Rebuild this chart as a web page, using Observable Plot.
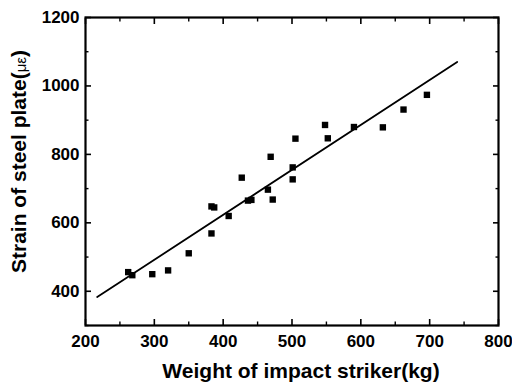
<!DOCTYPE html>
<html>
<head>
<meta charset="utf-8">
<script src="https://cdn.jsdelivr.net/npm/d3@7"></script>
<script src="https://cdn.jsdelivr.net/npm/@observablehq/plot@0.6"></script>
<style>
  html, body { margin: 0; padding: 0; background: #fff; }
</style>
</head>
<body>
<div id="chart"></div>
<script>
// Measured strain of the steel plate for each striker weight
const weight = [262, 268, 297, 320, 350, 383, 383, 387, 408, 427, 436, 441, 465, 469, 472, 501, 501, 505, 548, 552, 590, 632, 662, 696];
const strain = [456, 447, 450, 461, 511, 569, 648, 645, 620, 732, 665, 667, 697, 793, 668, 762, 727, 846, 886, 847, 880, 879, 931, 974];

// Linear fit, drawn between its two end points
const fitWeight = [217, 740];
const fitStrain = [383, 1070];

// Axis ticks
const xMajor = [200, 300, 400, 500, 600, 700, 800];
const xMinor = [250, 350, 450, 550, 650, 750];
const yMajor = [400, 600, 800, 1000, 1200];
const yMinor = [300, 500, 700, 900, 1100];

const xTitle = "Weight of impact striker(kg)";
const yTitle = "Strain of steel plate(με)";

const points = weight.map((w, i) => ({weight: w, strain: strain[i]}));
const fit = fitWeight.map((w, i) => ({weight: w, strain: fitStrain[i]}));

const font = "'Liberation Sans', Arial, Helvetica, sans-serif";
const blank = () => "";
const plain = d3.format("d");

const chart = Plot.plot({
  width: 512,
  height: 388,
  marginLeft: 85,
  marginRight: 14,
  marginTop: 17,
  marginBottom: 63,
  style: {fontFamily: font, fontWeight: "bold", fontSize: "17px", color: "#000", background: "#fff"},
  x: {domain: [200, 800]},
  y: {domain: [300, 1200]},
  marks: [
    // inward ticks on all four sides
    Plot.axisX({anchor: "bottom", ticks: xMajor, tickSize: -6, tickPadding: 15, tickFormat: plain, strokeWidth: 1.6, label: null}),
    Plot.axisX({anchor: "bottom", ticks: xMinor, tickSize: -3.5, tickFormat: blank, strokeWidth: 1.4, label: null}),
    Plot.axisX({anchor: "top", ticks: xMajor, tickSize: -6, tickFormat: blank, strokeWidth: 1.6, label: null}),
    Plot.axisX({anchor: "top", ticks: xMinor, tickSize: -3.5, tickFormat: blank, strokeWidth: 1.4, label: null}),
    Plot.axisY({anchor: "left", ticks: yMajor, tickSize: -6, tickPadding: 12, tickFormat: plain, strokeWidth: 1.6, label: null}),
    Plot.axisY({anchor: "left", ticks: yMinor, tickSize: -3.5, tickFormat: blank, strokeWidth: 1.4, label: null}),
    Plot.axisY({anchor: "right", ticks: yMajor, tickSize: -6, tickFormat: blank, strokeWidth: 1.6, label: null}),
    Plot.axisY({anchor: "right", ticks: yMinor, tickSize: -3.5, tickFormat: blank, strokeWidth: 1.4, label: null}),
    Plot.frame({stroke: "#000", strokeWidth: 2.2}),
    // fitted line
    Plot.line(fit, {x: "weight", y: "strain", stroke: "#000", strokeWidth: 1.8}),
    // measurements
    Plot.dot(points, {x: "weight", y: "strain", symbol: "square", r: 3.6, fill: "#000", stroke: "none"}),
    // axis titles
    Plot.text([xTitle], {frameAnchor: "bottom", textAnchor: "middle", dx: 9, dy: 52, fontSize: 21, fontWeight: "bold", fill: "#000"}),
    Plot.text([yTitle], {frameAnchor: "left", textAnchor: "middle", lineAnchor: "middle", dx: -66, dy: -10, rotate: -90, fontSize: 21, fontWeight: "bold", fill: "#000"})
  ]
});

// Greek symbols of the unit in a lighter, smaller face
d3.select(chart).selectAll("text").each(function () {
  if (this.textContent === yTitle) {
    const t = d3.select(this);
    t.text(null);
    t.append("tspan").text("Strain of steel plate(");
    t.append("tspan").attr("font-weight", "normal").attr("font-size", 15).text("με");
    t.append("tspan").text(")");
  }
});

document.getElementById("chart").appendChild(chart);
</script>
</body>
</html>
